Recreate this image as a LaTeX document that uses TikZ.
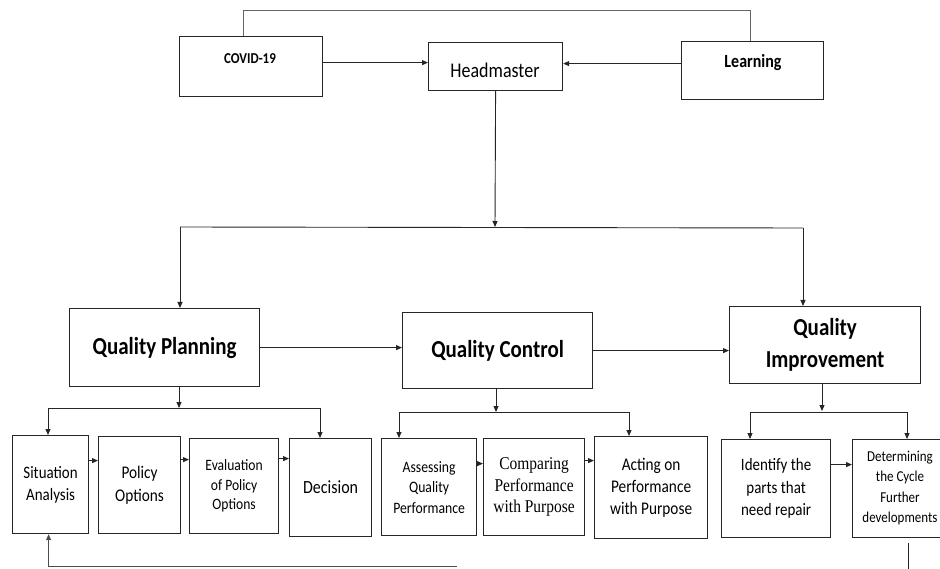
\documentclass[tikz,border=0pt]{standalone}
\usepackage{fontspec}
\setmainfont{Carlito}[FakeStretch=0.86]
\newfontfamily\serifface{Liberation Serif}[FakeStretch=0.86]
\usetikzlibrary{arrows.meta,calc}
\begin{document}
\begin{tikzpicture}[x=1pt,y=-1pt,
  box/.style={draw=black!85,line width=1.2pt,anchor=north west,inner sep=0pt,align=center},
  conn/.style={draw=black!85,line width=0.9pt},
  arr/.style={conn,-{Triangle[length=6pt,width=5pt]}},
  title/.style={font=\bfseries\fontsize{24.4}{32}\selectfont}
]
\useasboundingbox (0,0) rectangle (940,569);
\clip (0,0) rectangle (940,569);
\fill[white] (0,0) rectangle (940,569);

% top row
\node[box,minimum width=143pt,minimum height=60pt] (covid) at (179,36) {};
\node[font=\bfseries\fontsize{15.1}{17}\selectfont] (covidt) at (250,59) {COVID-19};
\node[box,minimum width=134pt,minimum height=48pt] (head) at (428,42) {};
\node[font=\fontsize{20.9}{23}\selectfont] (headt) at (495,70) {Headmaster};
\node[box,minimum width=142pt,minimum height=58pt] (learn) at (681,41) {};
\node[font=\bfseries\fontsize{18.6}{20}\selectfont] (learnt) at (753,63) {Learning};

% main row
\node[box,title,minimum width=190pt,minimum height=78pt] (qp) at (69,308) {Quality Planning};
\node[box,title,minimum width=190pt,minimum height=76pt] (qc) at (402,312) {Quality Control};
\node[box,title,minimum width=191pt,minimum height=77pt] (qi) at (729,306) {Quality\\Improvement};

% bottom row
\node[box,minimum width=76pt,minimum height=98pt,font=\fontsize{17.4}{22}\selectfont] (sa) at (12,435) {Situation\\Analysis};
\node[box,minimum width=82pt,minimum height=97pt,font=\fontsize{17.8}{23}\selectfont] (po) at (98,436) {Policy\\Options};
\node[box,minimum width=89pt,minimum height=95pt,font=\fontsize{15.8}{19.5}\selectfont] (epo) at (189,438) {Evaluation\\of Policy\\Options};
\node[box,minimum width=82pt,minimum height=98pt,font=\fontsize{18.6}{21}\selectfont] (dec) at (289,438) {Decision};
\node[box,minimum width=95pt,minimum height=97pt,font=\fontsize{15.9}{20.5}\selectfont] (ass) at (381,438) {Assessing\\Quality\\Performance};
\node[box,minimum width=101pt,minimum height=97pt,font=\serifface\fontsize{18}{21.5}\selectfont] (cmp) at (483,438) {Comparing\\Performance\\with Purpose};
\node[box,minimum width=113pt,minimum height=102pt,font=\fontsize{17.8}{22}\selectfont] (act) at (594,436) {Acting on\\Performance\\with Purpose};
\node[box,minimum width=109pt,minimum height=98pt,font=\fontsize{17.4}{22.5}\selectfont] (idf) at (721,439) {Identify the\\parts that\\need repair};
\node[box,minimum width=100pt,minimum height=98pt] (det) at (852,439) {};
\node[align=center,inner sep=0pt,font=\fontsize{15.1}{20.5}\selectfont] (dett) at (900,488) {Determining\\the Cycle\\Further\\developments};

% top connectors
\coordinate (tr) at (750,10);
\draw[conn,draw=black!60] ($(covid.north west)+(64,0)$) |- (tr) -- ($(learn.north west)+(69,0)$);
\draw[arr] ([yshift=4pt]covid.east) -- ([yshift=4pt]covid.east -| head.west);
\draw[arr] ([yshift=7pt]learn.west) -- ([yshift=7pt]learn.west -| head.east);

% headmaster to main row
\coordinate (j1) at (495,227);
\coordinate (jl) at (180,227);
\coordinate (jr) at (803,228);
\draw[arr] (head.south) -- (j1);
\draw[conn] (jl) -- (jr);
\draw[arr] (jl) -- (jl |- qp.north);
\draw[arr] (jr) -- (jr |- qi.north);
\draw[arr] (qp.east) -- (qp.east -| qc.west);
\draw[arr] (qc.east) -- (qc.east -| qi.west);

% planning branch
\coordinate (p0) at (179,408);
\coordinate (pl) at (48,408);
\coordinate (pr) at (320,408);
\draw[arr] (p0 |- qp.south) -- (p0);
\draw[conn] (pl) -- (pr);
\draw[arr] (pl) -- (pl |- sa.north);
\draw[arr] (pr) -- (pr |- dec.north);
\draw[arr] ([yshift=24pt]sa.east) -- ([yshift=24pt]sa.east -| po.west);
\draw[arr] ([yshift=25.5pt]po.east) -- ([yshift=25.5pt]po.east -| epo.west);
\draw[arr] ([yshift=27.5pt]epo.east) -- ([yshift=27.5pt]epo.east -| dec.west);

% control branch
\coordinate (c0) at (496,412);
\coordinate (cl) at (399,412);
\coordinate (cr) at (629,412);
\draw[arr] (c0 |- qc.south) -- (c0);
\draw[conn] (cl) -- (cr);
\draw[arr] (cl) -- (cl |- ass.north);
\draw[arr] (cr) -- (cr |- act.north);
\draw[arr] ([yshift=23.5pt]ass.east) -- ([yshift=23.5pt]ass.east -| cmp.west);
\draw[arr] ([yshift=26.5pt]cmp.east) -- ([yshift=26.5pt]cmp.east -| act.west);

% improvement branch
\coordinate (i0) at (822,411);
\coordinate (il) at (750,412);
\coordinate (ir) at (907,412);
\draw[arr] (i0 |- qi.south) -- (i0);
\draw[conn] (il) -- (ir);
\draw[arr] (il) -- (il |- idf.north);
\draw[arr] (ir) -- (ir |- det.north);
\draw[arr] ([yshift=24pt]idf.east) -- ([yshift=24pt]idf.east -| det.west);

% feedback and tail
\coordinate (fb) at (457,566);
\draw[arr,draw=black!70] (fb) -| ([xshift=-2pt]sa.south);
\coordinate (dtop) at ($(det.south)+(6,5)$);
\coordinate (dt) at (908,569);
\draw[conn] (dtop) -- (dtop |- dt);
\end{tikzpicture}
\end{document}
